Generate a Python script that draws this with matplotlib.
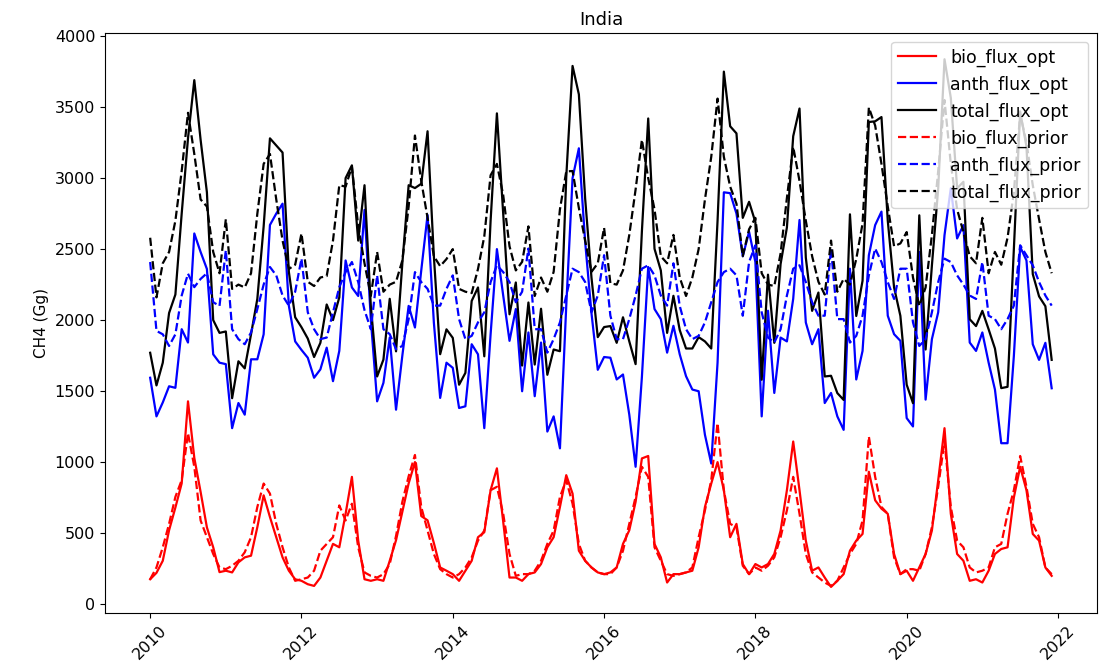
import numpy as np
import matplotlib
matplotlib.use("Agg")
import matplotlib.pyplot as plt

# monthly CH4 fluxes for India, Jan 2010 - Dec 2021 (Gg)
years = list(range(2010, 2022))

bio_flux_opt = [
    175, 220, 305, 520, 680, 850, 1428, 1030, 790, 540, 400, 225,
    235, 223, 294, 329, 341, 542, 766, 613, 471, 329, 235, 175,
    164, 140, 128, 187, 305, 424, 400, 636, 896, 447, 175, 164,
    175, 164, 305, 450, 650, 850, 1000, 620, 590, 430, 258, 235,
    211, 164, 235, 305, 471, 506, 802, 956, 580, 187, 187, 164,
    211, 223, 282, 400, 471, 684, 908, 778, 376, 305, 258, 223,
    211, 223, 258, 424, 520, 720, 1026, 1043, 424, 329, 152, 211,
    211, 223, 235, 400, 684, 849, 1000, 802, 471, 565, 282, 211,
    282, 258, 282, 353, 518, 802, 1145, 802, 447, 235, 258, 187,
    121, 164, 211, 376, 447, 494, 932, 731, 672, 636, 353, 211,
    235, 164, 258, 353, 518, 873, 1239, 636, 353, 305, 164, 175,
    152, 235, 353, 388, 400, 750, 967, 802, 494, 447, 258, 199,
]

anth_flux_opt = [
    1594, 1322, 1420, 1534, 1523, 1936, 1842, 2610, 2480, 2360, 1759, 1700,
    1690, 1239, 1416, 1334, 1724, 1724, 1900, 2670, 2750, 2820, 2100, 1850,
    1790, 1735, 1594, 1653, 1806, 1570, 1783, 2420, 2230, 2170, 2776, 2007,
    1428, 1558, 1877, 1369, 1750, 2100, 1948, 2350, 2740, 1983, 1452, 1700,
    1664, 1381, 1393, 1830, 1759, 1239, 1900, 2500, 2173, 1854, 2078, 1499,
    1913, 1464, 1842, 1215, 1322, 1097, 2100, 3000, 3210, 2550, 2050, 1650,
    1740, 1735, 1582, 1617, 1334, 967, 1600, 2374, 2078, 2007, 1771, 1960,
    1759, 1605, 1511, 1499, 1192, 990, 1700, 2900, 2894, 2750, 2450, 2622,
    2409, 1322, 2066, 1487, 1877, 1850, 2150, 2705, 1983, 1830, 1936, 1416,
    1487, 1322, 1227, 2362, 1582, 1783, 2457, 2669, 2764, 2031, 1901, 1854,
    1310, 1251, 2480, 1440, 1866, 2055, 2598, 2929, 2575, 2669, 1842, 1783,
    1913, 1700, 1511, 1133, 1133, 1747, 2516, 2420, 1830, 1720, 1840, 1520,
]

total_flux_opt = [
    1770, 1540, 1700, 2050, 2180, 2750, 3280, 3690, 3270, 2900, 2000, 1910,
    1920, 1450, 1710, 1660, 1900, 2150, 2660, 3280, 3230, 3180, 2340, 2020,
    1950, 1870, 1740, 1840, 2110, 2000, 2160, 3000, 3090, 2560, 2950, 2100,
    1603, 1722, 2150, 1780, 2400, 2950, 2930, 2960, 3330, 2450, 1760, 1935,
    1875, 1545, 1628, 2135, 2230, 1745, 2700, 3456, 2753, 2041, 2265, 1680,
    2124, 1687, 2080, 1615, 1793, 1781, 3008, 3790, 3590, 2855, 2300, 1880,
    1951, 1958, 1840, 2020, 1850, 1690, 2626, 3420, 2502, 2350, 1910, 2171,
    1930, 1800, 1800, 1880, 1850, 1800, 2700, 3750, 3365, 3315, 2720, 2833,
    2690, 1580, 2320, 1840, 2395, 2652, 3295, 3490, 2440, 2065, 2194, 1603,
    1608, 1486, 1438, 2745, 2029, 2277, 3395, 3400, 3430, 2700, 2230, 2030,
    1545, 1415, 2738, 1793, 2384, 2928, 3837, 3565, 2928, 2974, 2006, 1958,
    2065, 1935, 1800, 1521, 1530, 2497, 3470, 3222, 2324, 2167, 2098, 1720,
]

bio_flux_prior = [
    175, 258, 400, 565, 755, 873, 1204, 967, 589, 471, 353, 258,
    246, 270, 305, 365, 471, 684, 849, 778, 565, 400, 258, 164,
    175, 187, 235, 376, 424, 471, 695, 589, 707, 400, 223, 199,
    187, 211, 282, 480, 720, 900, 1050, 684, 518, 353, 246, 211,
    187, 211, 258, 329, 447, 518, 802, 826, 636, 353, 199, 211,
    211, 235, 305, 424, 518, 755, 873, 707, 424, 305, 258, 223,
    211, 211, 258, 376, 565, 755, 967, 896, 400, 305, 211, 199,
    211, 223, 258, 471, 660, 873, 1275, 802, 565, 542, 270, 211,
    258, 235, 270, 329, 471, 660, 896, 636, 353, 223, 187, 152,
    128, 164, 258, 353, 424, 589, 1180, 896, 684, 636, 329, 211,
    246, 246, 235, 353, 542, 826, 1150, 684, 447, 400, 258, 223,
    235, 258, 400, 424, 636, 802, 1043, 826, 565, 471, 258, 211,
]

anth_flux_prior = [
    2409, 1924, 1900, 1818, 1900, 2173, 2327, 2232, 2290, 2330, 2126, 2100,
    2492, 1936, 1866, 1830, 1913, 2078, 2250, 2374, 2315, 2173, 2102, 2200,
    2433, 2055, 1936, 1866, 1877, 2055, 2232, 2338, 2409, 2268, 2070, 1936,
    2315, 1936, 1901, 1795, 1818, 2007, 2338, 2268, 2220, 2102, 2102, 2220,
    2315, 2007, 1866, 1889, 1984, 2055, 2268, 2386, 2338, 2268, 2126, 2200,
    2504, 1936, 1936, 1771, 1866, 1984, 2173, 2362, 2338, 2268, 2055, 2173,
    2457, 2031, 1866, 1866, 2007, 2173, 2362, 2386, 2315, 2173, 2102, 2400,
    2100, 1936, 1866, 1889, 1984, 2126, 2268, 2338, 2362, 2315, 2031, 2409,
    2527, 2055, 1877, 1842, 1936, 2173, 2362, 2386, 2268, 2126, 2031, 2031,
    2504, 2007, 2007, 1842, 1889, 2031, 2315, 2504, 2409, 2268, 2149, 2362,
    2362, 1984, 1818, 1866, 2055, 2268, 2433, 2409, 2315, 2250, 2173, 2149,
    2409, 2031, 2007, 1936, 2007, 2102, 2527, 2457, 2386, 2268, 2173, 2102,
]

total_flux_prior = [
    2580, 2160, 2400, 2480, 2700, 3050, 3460, 3170, 2850, 2800, 2480, 2330,
    2710, 2220, 2250, 2230, 2330, 2750, 3100, 3170, 2850, 2560, 2360, 2390,
    2610, 2270, 2240, 2300, 2310, 2560, 2950, 2940, 3080, 2660, 2400, 2170,
    2480, 2200, 2250, 2270, 2420, 2800, 3300, 2980, 2720, 2450, 2380, 2430,
    2500, 2220, 2200, 2190, 2360, 2590, 3020, 3100, 2880, 2520, 2350, 2410,
    2660, 2170, 2300, 2200, 2340, 2780, 3047, 3050, 2790, 2560, 2340, 2400,
    2650, 2260, 2250, 2350, 2600, 2920, 3270, 3000, 2780, 2450, 2400, 2600,
    2300, 2170, 2300, 2500, 2850, 3150, 3560, 3150, 2940, 2820, 2450, 2640,
    2720, 2330, 2250, 2240, 2470, 2860, 3220, 2980, 2700, 2450, 2270, 2180,
    2560, 2200, 2290, 2250, 2430, 2680, 3497, 3370, 3100, 2800, 2520, 2540,
    2620, 2300, 2100, 2230, 2600, 3050, 3550, 3100, 2780, 2620, 2450, 2400,
    2720, 2330, 2480, 2390, 2580, 2900, 3450, 3250, 2950, 2710, 2480, 2330,
]

# decimal-year time axis, one point per month
t = np.array([y + m / 12 for y in years for m in range(12)])

fig = plt.figure(figsize=(11.18, 6.71), dpi=100)
ax = fig.add_axes([0.094, 0.086, 0.887, 0.865])

ax.plot(t, bio_flux_opt, color="red", lw=1.6, label="bio_flux_opt")
ax.plot(t, anth_flux_opt, color="blue", lw=1.6, label="anth_flux_opt")
ax.plot(t, total_flux_opt, color="black", lw=1.6, label="total_flux_opt")
ax.plot(t, bio_flux_prior, color="red", ls="--", lw=1.6, label="bio_flux_prior")
ax.plot(t, anth_flux_prior, color="blue", ls="--", lw=1.6, label="anth_flux_prior")
ax.plot(t, total_flux_prior, color="black", ls="--", lw=1.6, label="total_flux_prior")

ax.set_xticks(range(2010, 2023, 2))
ax.set_xticklabels([str(y) for y in range(2010, 2023, 2)], rotation=45)
ax.set_yticks(range(0, 4001, 500))
ax.tick_params(labelsize=11.5)
ax.set_ylabel("CH4 (Gg)", fontsize=11)
ax.set_title("India", fontsize=13)
ax.legend(loc="upper right", fontsize=12.5, handlelength=2.2)

fig.savefig("out.png", dpi=100)
